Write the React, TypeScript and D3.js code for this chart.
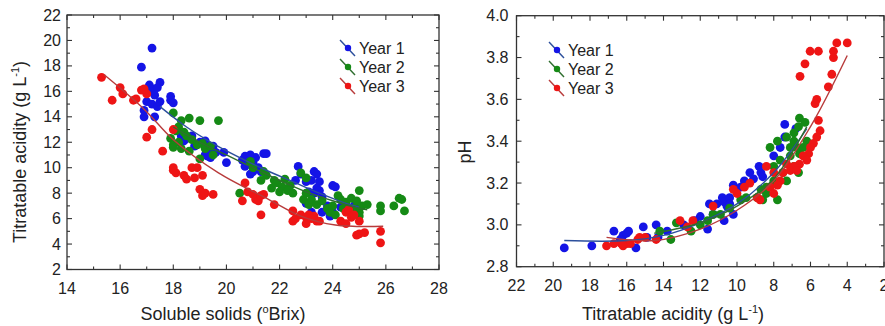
import React from 'react';
import * as d3 from 'd3';

type Pt = [number, number];

// ---- Panel A: titratable acidity (g/L) vs soluble solids (ºBrix) ----
const brixYear1: Pt[] = [
  [17.2, 19.4], [16.8, 17.9], [17.1, 16.5], [17.2, 16.2], [17.5, 16.7], [17.4, 16.3], [17.0, 16.0], [17.3, 15.7],
  [17.0, 15.2], [16.9, 14.5], [17.2, 15.0], [17.4, 14.8], [17.3, 14.0], [16.9, 14.0], [17.5, 15.2],
  [17.9, 15.6], [17.9, 15.3], [18.0, 15.1],
  [18.3, 12.5], [18.5, 12.3], [18.4, 12.1], [18.7, 12.5], [18.8, 11.7], [19.0, 12.0], [19.2, 11.0], [19.3, 10.9],
  [19.4, 11.5], [19.5, 11.7], [19.2, 12.1], [19.6, 11.2], [19.9, 11.2], [20.0, 10.4], [19.4, 10.8],
  [20.6, 10.6], [20.7, 10.9], [20.8, 10.3], [20.9, 11.0], [21.0, 10.4], [21.1, 10.8], [20.7, 10.1], [21.0, 9.7],
  [21.2, 10.0], [21.4, 11.1], [21.5, 11.1], [20.9, 9.5], [21.3, 9.7],
  [22.7, 10.1], [22.6, 9.0], [22.8, 9.5], [23.0, 8.9], [23.3, 9.7], [23.4, 9.5], [23.2, 9.0], [23.5, 8.9],
  [23.4, 8.4], [23.3, 8.0], [23.5, 8.2], [23.1, 8.1], [23.6, 7.7], [23.0, 7.2], [23.2, 6.5], [23.6, 6.5],
  [24.0, 8.6], [24.1, 8.5], [23.8, 7.0], [24.0, 6.5], [23.9, 6.2], [24.3, 6.9], [24.6, 6.7], [24.8, 7.0], [24.9, 6.6],
];

const brixYear2: Pt[] = [
  [18.0, 14.3], [18.2, 13.2], [18.3, 13.7], [18.6, 13.9], [19.0, 13.7], [19.7, 13.7], [18.1, 12.9],
  [17.9, 12.3], [18.0, 11.8], [18.2, 12.0], [18.4, 12.8], [18.5, 12.5], [18.7, 12.2], [18.9, 11.8], [19.1, 11.9],
  [19.2, 11.5], [18.3, 11.5], [18.0, 11.6], [18.6, 11.3], [19.0, 10.7], [19.4, 11.7], [19.5, 11.0],
  [20.5, 8.0], [20.9, 10.5], [21.0, 10.0], [21.4, 9.7], [21.5, 9.4], [21.3, 9.0], [21.8, 9.0], [21.7, 8.4],
  [21.9, 8.8], [22.1, 8.5], [22.2, 9.1], [22.4, 8.6], [22.0, 8.1], [22.3, 8.2], [22.5, 8.0],
  [22.8, 9.6], [23.0, 9.2], [23.0, 8.0], [22.9, 7.5], [23.1, 7.1], [23.2, 7.5], [23.4, 7.1], [23.6, 7.4],
  [23.8, 6.8], [23.9, 6.5], [24.0, 7.0], [24.2, 7.8], [24.3, 7.5], [24.5, 7.3], [24.7, 7.6], [24.9, 7.4],
  [25.0, 8.2], [24.8, 6.8], [25.0, 6.5], [25.1, 7.0], [25.3, 7.1], [24.1, 6.3], [24.4, 6.8], [25.8, 7.0],
  [25.8, 6.6], [26.3, 7.0], [26.5, 7.6], [26.6, 7.5], [26.7, 6.6], [25.0, 6.2],
];

const brixYear3: Pt[] = [
  [15.3, 17.1], [15.7, 15.3], [16.0, 16.3], [16.1, 15.8], [16.5, 15.3], [16.6, 15.4], [16.8, 16.1], [17.0, 15.8],
  [16.9, 16.2], [17.0, 12.4], [17.2, 13.0], [17.6, 11.3], [18.0, 13.0], [18.0, 9.8], [18.1, 9.6], [18.0, 10.0],
  [18.4, 9.4], [18.5, 9.1], [18.7, 10.0], [18.9, 10.0], [18.8, 9.2], [19.0, 8.3], [19.1, 7.8], [19.1, 9.4],
  [19.5, 7.9], [19.2, 8.0],
  [20.6, 7.4], [20.7, 8.8], [20.8, 8.1], [21.0, 7.9], [21.1, 7.5], [21.2, 7.4], [21.3, 7.8], [21.4, 7.9],
  [21.3, 6.3], [21.8, 7.1],
  [22.5, 6.6], [22.5, 5.8], [22.6, 6.0], [22.8, 6.3], [23.0, 6.1], [23.0, 5.6], [23.1, 6.3], [23.3, 6.2],
  [23.4, 5.8], [23.5, 5.8], [23.2, 6.0],
  [24.3, 5.8], [24.5, 6.5], [24.6, 6.7], [24.7, 6.1], [24.5, 5.6], [24.8, 6.3], [25.0, 5.8], [24.9, 4.7],
  [25.0, 4.8], [25.2, 4.9], [25.8, 5.0], [25.8, 4.1],
];

// fitted trend curves, sampled along x
const brixFit1: Pt[] = [[17.5, 14.8], [18.5, 13.2], [19.5, 11.9], [20.5, 10.8], [21.5, 9.8], [22.5, 8.9], [23.5, 8.0], [24.5, 7.2], [25.0, 6.9]];
const brixFit2: Pt[] = [[18.0, 13.2], [19.0, 12.0], [20.0, 11.0], [21.0, 10.0], [22.0, 9.0], [23.0, 8.1], [24.0, 7.4], [25.0, 6.8], [25.3, 6.7]];
const brixFit3: Pt[] = [[15.4, 17.3], [16.9, 14.6], [18.0, 12.2], [19.7, 9.6], [21.6, 7.5], [22.8, 6.2], [24.1, 5.5], [25.9, 5.4]];

// ---- Panel B: pH vs titratable acidity (g/L) ----
const phYear1: Pt[] = [
  [19.4, 2.89], [17.9, 2.90], [16.7, 2.97], [16.2, 2.95], [16.0, 2.96], [15.9, 2.97], [15.1, 2.99], [14.4, 3.00],
  [15.5, 2.89], [14.9, 2.94], [16.35, 2.93], [14.3, 2.94], [13.8, 2.97],
  [12.0, 3.04], [11.6, 2.98], [11.3, 3.05], [11.1, 3.10], [10.8, 3.13], [10.7, 3.11], [10.55, 3.09], [10.7, 3.02],
  [10.4, 3.13], [10.2, 3.19], [9.8, 3.18], [9.6, 3.21], [9.3, 3.25], [9.1, 3.22], [8.8, 3.28], [8.7, 3.25],
  [8.6, 3.23], [12.9, 3.00], [12.3, 3.02], [10.2, 3.05], [11.5, 3.10], [10.4, 3.10],
  [7.4, 3.48], [7.4, 3.42], [6.8, 3.46], [8.0, 3.33], [7.65, 3.37],
];

const phYear2: Pt[] = [
  [14.2, 2.97], [13.6, 2.93], [13.3, 3.01], [12.5, 2.97], [12.0, 3.00], [11.6, 3.02], [11.3, 3.05], [10.9, 3.05],
  [10.4, 3.08], [9.8, 3.12], [9.5, 3.13], [8.9, 3.13], [8.7, 3.17], [8.4, 3.18], [8.0, 3.21], [7.3, 3.21],
  [7.5, 3.25], [8.2, 3.37], [7.8, 3.40], [7.3, 3.42], [6.9, 3.44], [6.65, 3.47], [6.6, 3.51], [6.3, 3.49],
  [7.1, 3.33], [6.9, 3.28], [6.65, 3.25], [6.6, 3.34], [6.75, 3.37], [6.4, 3.37], [6.2, 3.40], [7.65, 3.31],
  [8.0, 3.28], [7.1, 3.37], [8.4, 3.15], [7.8, 3.12], [8.6, 3.12], [6.9, 3.40],
];

const phYear3: Pt[] = [
  [4.57, 3.87], [4.0, 3.87], [6.02, 3.83], [5.57, 3.83], [4.75, 3.83], [4.75, 3.80], [6.3, 3.77], [6.57, 3.71],
  [4.84, 3.72], [5.03, 3.66], [5.66, 3.60], [5.75, 3.58], [5.57, 3.50], [5.48, 3.45], [5.66, 3.42], [5.84, 3.39],
  [6.0, 3.37], [6.1, 3.34], [6.4, 3.33], [6.2, 3.31], [6.6, 3.29], [6.9, 3.28], [7.1, 3.26], [7.5, 3.25],
  [7.65, 3.21], [7.8, 3.19], [8.2, 3.18], [8.0, 3.15], [7.3, 3.29], [8.0, 3.25], [8.4, 3.28], [8.75, 3.12],
  [8.9, 3.13], [9.3, 3.20], [9.6, 3.18], [10.0, 3.15], [10.2, 3.17], [11.3, 3.09], [12.4, 3.02], [13.1, 3.02],
  [12.7, 2.99], [15.3, 2.94], [15.4, 2.93], [16.0, 2.91], [16.3, 2.91], [16.7, 2.91], [17.1, 2.90], [15.8, 2.91],
  [15.0, 2.94], [14.4, 2.93], [16.2, 2.90], [6.75, 3.26],
];

const phFit1: Pt[] = [[19.4, 2.925], [16.0, 2.925], [14.0, 2.95], [12.0, 3.01], [10.0, 3.10], [8.0, 3.25], [6.2, 3.46]];
const phFit2: Pt[] = [[14.5, 2.96], [12.0, 3.01], [10.0, 3.09], [8.0, 3.22], [6.2, 3.47]];
const phFit3: Pt[] = [[17.1, 2.94], [14.5, 2.925], [12.0, 2.98], [10.0, 3.07], [8.0, 3.21], [6.0, 3.47], [4.0, 3.81]];

const yearLabels = ['Year 1', 'Year 2', 'Year 3'];
const markerColors = ['#1414e6', '#158a15', '#ee1515'];
const fitColors = ['#2c4f9c', '#2f6e2f', '#b83b3b'];

const FONT = "'Liberation Sans', Arial, Helvetica, sans-serif";
const INK = '#222';

type Scale = d3.ScaleLinear<number, number>;

function Frame({ x, y, xMajor, xMinor, yMajor, yMinor, xFmt, yFmt, yLabelGap }: {
  x: Scale; y: Scale; xMajor: number[]; xMinor: number[]; yMajor: number[]; yMinor: number[];
  xFmt: (v: number) => string; yFmt: (v: number) => string; yLabelGap: number;
}) {
  const [x0, x1] = x.range();
  const [y0, y1] = y.range(); // y0 bottom, y1 top
  const left = Math.min(x0, x1), right = Math.max(x0, x1);
  const bottom = y0, top = y1;
  const tick = (key: string, xa: number, ya: number, xb: number, yb: number) => (
    <line key={key} x1={xa} y1={ya} x2={xb} y2={yb} stroke="#333" strokeWidth={1.1} />
  );
  const marks: React.ReactNode[] = [];
  xMajor.forEach((v, i) => {
    const px = x(v);
    marks.push(tick(`xb${i}`, px, bottom, px, bottom - 5));
    marks.push(tick(`xt${i}`, px, top, px, top + 5));
  });
  xMinor.forEach((v, i) => {
    const px = x(v);
    marks.push(tick(`xbm${i}`, px, bottom, px, bottom - 3));
    marks.push(tick(`xtm${i}`, px, top, px, top + 3));
  });
  yMajor.forEach((v, i) => {
    const py = y(v);
    marks.push(tick(`yl${i}`, left, py, left + 5, py));
    marks.push(tick(`yr${i}`, right, py, right - 5, py));
  });
  yMinor.forEach((v, i) => {
    const py = y(v);
    marks.push(tick(`ylm${i}`, left, py, left + 3, py));
    marks.push(tick(`yrm${i}`, right, py, right - 3, py));
  });
  return (
    <g>
      <rect x={left} y={top} width={right - left} height={bottom - top} fill="none" stroke="#333" strokeWidth={1.3} />
      {marks}
      {xMajor.map((v, i) => (
        <text key={`xl${i}`} x={x(v)} y={bottom + 24} textAnchor="middle" fontSize={16} fill={INK}>{xFmt(v)}</text>
      ))}
      {yMajor.map((v, i) => (
        <text key={`ylb${i}`} x={left - yLabelGap} y={y(v) + 5.5} textAnchor="end" fontSize={16} fill={INK}>{yFmt(v)}</text>
      ))}
    </g>
  );
}

function Series({ x, y, points, fit, color, lineColor }: {
  x: Scale; y: Scale; points: Pt[]; fit: Pt[]; color: string; lineColor: string;
}) {
  return (
    <g>
      {points.map((p, i) => (
        <circle key={i} cx={x(p[0])} cy={y(p[1])} r={4.4} fill={color} />
      ))}
    </g>
  );
}

function FitLine({ x, y, fit, color }: { x: Scale; y: Scale; fit: Pt[]; color: string }) {
  const line = d3.line<Pt>().x((d) => x(d[0])).y((d) => y(d[1])).curve(d3.curveCatmullRom);
  return <path d={line(fit) ?? ''} fill="none" stroke={color} strokeWidth={1.4} />;
}

function Legend({ x0, y0 }: { x0: number; y0: number }) {
  return (
    <g>
      {yearLabels.map((label, i) => {
        const cy = y0 + i * 19;
        return (
          <g key={label}>
            <line x1={x0 - 8} y1={cy - 8} x2={x0 + 7} y2={cy + 8} stroke={fitColors[i]} strokeWidth={1.4} />
            <circle cx={x0} cy={cy} r={3.2} fill={markerColors[i]} />
            <text x={x0 + 11} y={cy + 6} fontSize={16} fill={INK}>{label}</text>
          </g>
        );
      })}
    </g>
  );
}

export default function App() {
  const xL = d3.scaleLinear().domain([14, 28]).range([67, 439]);
  const yL = d3.scaleLinear().domain([2, 22]).range([269.5, 15]);
  const xR = d3.scaleLinear().domain([22, 2]).range([516.5, 884]);
  const yR = d3.scaleLinear().domain([2.8, 4.0]).range([266.7, 15.7]);

  const leftPts = [brixYear1, brixYear2, brixYear3];
  const leftFits = [brixFit1, brixFit2, brixFit3];
  const rightPts = [phYear1, phYear2, phYear3];
  const rightFits = [phFit1, phFit2, phFit3];

  const oddsBetween = (a: number, b: number, step: number, offset: number) =>
    d3.range(a + offset, b, step);

  return (
    <svg width={885} height={326} style={{ position: 'absolute', left: 0, top: 0, background: '#fff' }}
      fontFamily={FONT}>
      <rect x={0} y={0} width={885} height={326} fill="#fff" />

      {/* left panel */}
      {leftPts.map((pts, i) => (
        <Series key={`lp${i}`} x={xL} y={yL} points={pts} fit={leftFits[i]} color={markerColors[i]} lineColor={fitColors[i]} />
      ))}
      {leftFits.map((f, i) => (
        <FitLine key={`lf${i}`} x={xL} y={yL} fit={f} color={fitColors[i]} />
      ))}
      <Frame x={xL} y={yL}
        xMajor={d3.range(14, 28.01, 2)} xMinor={oddsBetween(14, 28, 2, 1)}
        yMajor={d3.range(2, 22.01, 2)} yMinor={oddsBetween(2, 22, 2, 1)}
        xFmt={(v) => String(v)} yFmt={(v) => String(v)} yLabelGap={6} />
      <Legend x0={348} y0={48} />
      <text x={223} y={320} textAnchor="middle" fontSize={18} fill={INK}>
        Soluble solids (<tspan fontSize={11} dy={-7}>o</tspan><tspan dy={7}>Brix)</tspan>
      </text>
      <text transform="translate(26,152) rotate(-90)" textAnchor="middle" fontSize={18} fill={INK}>
        Titratable acidity (g L<tspan fontSize={11} dy={-7}>-1</tspan><tspan dy={7}>)</tspan>
      </text>

      {/* right panel */}
      {rightPts.map((pts, i) => (
        <Series key={`rp${i}`} x={xR} y={yR} points={pts} fit={rightFits[i]} color={markerColors[i]} lineColor={fitColors[i]} />
      ))}
      {rightFits.map((f, i) => (
        <FitLine key={`rf${i}`} x={xR} y={yR} fit={f} color={fitColors[i]} />
      ))}
      <Frame x={xR} y={yR}
        xMajor={d3.range(2, 22.01, 2)} xMinor={oddsBetween(2, 22, 2, 1)}
        yMajor={d3.range(2.8, 4.001, 0.2)} yMinor={oddsBetween(2.8, 4.0, 0.2, 0.1)}
        xFmt={(v) => String(Math.round(v))} yFmt={(v) => v.toFixed(1)} yLabelGap={8} />
      <Legend x0={557} y0={50} />
      <text x={673} y={320} textAnchor="middle" fontSize={18} fill={INK}>
        Titratable acidity (g L<tspan fontSize={11} dy={-7}>-1</tspan><tspan dy={7}>)</tspan>
      </text>
      <text transform="translate(471,152) rotate(-90)" textAnchor="middle" fontSize={18} fill={INK}>pH</text>
    </svg>
  );
}
